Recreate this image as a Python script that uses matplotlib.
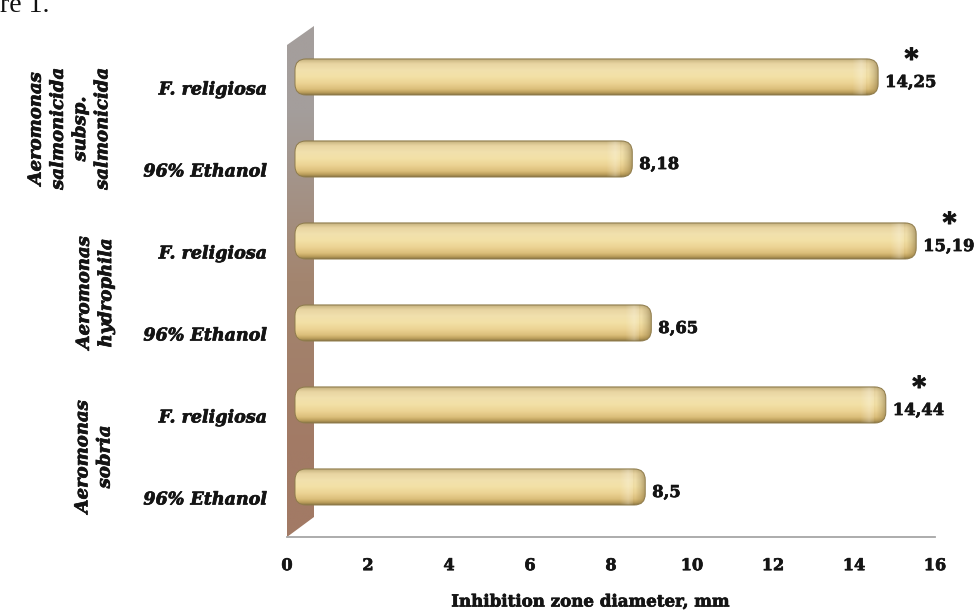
import numpy as np
import matplotlib.pyplot as plt
import matplotlib.patheffects as pe
from matplotlib.patches import FancyBboxPatch, Polygon
from matplotlib.colors import to_rgb

plt.rcParams['font.family'] = ['DejaVu Serif']

# rows from bottom to top
treatments = ['96% Ethanol', 'F. religiosa', '96% Ethanol', 'F. religiosa', '96% Ethanol', 'F. religiosa']
zones = [8.5, 14.44, 8.65, 15.19, 8.18, 14.25]
zone_labels = ['8,5', '14,44', '8,65', '15,19', '8,18', '14,25']
significant = [False, True, False, True, False, True]
strains = ['Aeromonas\nsobria', 'Aeromonas\nhydrophila', 'Aeromonas\nsalmonicida\nsubsp.\nsalmonicida']
strain_pos = [0.5, 2.5, 4.5]
x_ticks = [0, 2, 4, 6, 8, 10, 12, 14, 16]

ink = '#141414'
heavy = [pe.withStroke(linewidth=0.5, foreground=ink)]

W, H = 980, 615
fig = plt.figure(figsize=(W / 100, H / 100), dpi=100)
y_lo, y_hi = -0.476, 5.8
px_x = 648 / 16.0
px_y = 82.0
ax = fig.add_axes([287 / W, 78 / H, 648 / W, (y_hi - y_lo) * px_y / H])

# fake 3D depth of the bars
depth_x = 14 / px_x
depth_y = 11 / px_y

# back wall with a grey-to-brown gradient
wall_x = 27 / px_x
wall = Polygon([(0, y_lo), (0, 5.524), (wall_x, 5.756), (wall_x, -0.232)],
               closed=True, facecolor='none', edgecolor='none')
ax.add_patch(wall)
wall_grad = np.array([[to_rgb('#a49e9c')], [to_rgb('#a3856f')], [to_rgb('#a27a65')]])
im = ax.imshow(wall_grad, extent=[0, wall_x, y_lo, 5.76], aspect='auto',
               interpolation='bilinear', origin='upper', zorder=1)
im.set_clip_path(wall)

# cylinder shading, top to bottom
stops = [0.0, 0.05, 0.15, 0.32, 0.5, 0.68, 0.84, 0.94, 1.0]
cols = ['#9a8a62', '#cdb985', '#e8d5a2', '#f1e0ad', '#f3e1a6', '#ecd394', '#dcbf7b', '#b99c5a', '#8a7544']
rgb = np.array([to_rgb(c) for c in cols])
t = np.linspace(0, 1, 80)
body = np.stack([np.interp(t, stops, rgb[:, k]) for k in range(3)], axis=-1)[:, None, :]

bar_h = 0.44
r = 11 / px_x
start = 8 / px_x

# end cap: highlight then a darker rim
cap_w = 26 / px_x
u = np.linspace(0, 1, 60)
cap = np.zeros((1, 60, 4))
cap[0, :, :3] = np.where(u[:, None] < 0.55, 1.0, np.array(to_rgb('#7a6434')))
cap[0, :, 3] = np.interp(u, [0, 0.35, 0.5, 0.62, 0.85, 1.0], [0, 0.25, 0.12, 0.0, 0.25, 0.5])

for i, v in enumerate(zones):
    x1 = v + depth_x
    yc = i + depth_y
    box = FancyBboxPatch((start, yc - bar_h / 2), x1 - start, bar_h,
                         boxstyle=f'round,pad=0,rounding_size={r}',
                         mutation_aspect=px_x / px_y,
                         facecolor='none', edgecolor='#8f7c4c', lw=0.7, zorder=4)
    ax.add_patch(box)
    b = ax.imshow(body, extent=[start, x1, yc - bar_h / 2, yc + bar_h / 2],
                  aspect='auto', interpolation='bilinear', origin='upper', zorder=3)
    b.set_clip_path(box)
    c = ax.imshow(cap, extent=[x1 - cap_w, x1, yc - bar_h / 2, yc + bar_h / 2],
                  aspect='auto', interpolation='bilinear', zorder=3.5)
    c.set_clip_path(box)

    ax.annotate(zone_labels[i], xy=(x1, yc), xytext=(5, -4), textcoords='offset points',
                ha='left', va='center', fontsize=11.8, fontweight='bold', color=ink,
                path_effects=heavy)
    if significant[i]:
        ax.annotate('*', xy=(x1, yc), xytext=(24, 7), textcoords='offset points',
                    ha='center', va='baseline', fontsize=19, fontweight='bold', color=ink,
                    path_effects=[pe.withStroke(linewidth=0.9, foreground=ink)])

ax.set_xlim(0, 16)
ax.set_ylim(y_lo, y_hi)

ax.set_yticks(range(len(treatments)))
ax.set_yticklabels(treatments, fontsize=12.6, fontweight='bold', style='italic', color=ink)
ax.set_xticks(x_ticks)
ax.set_xticklabels([str(x) for x in x_ticks], fontsize=11.6, fontweight='bold', color=ink)
for lab in ax.get_xticklabels() + ax.get_yticklabels():
    lab.set_path_effects(heavy)
ax.tick_params(axis='y', length=0, pad=14.4)
ax.tick_params(axis='x', length=0, pad=14.5)

for s in ['top', 'right', 'left']:
    ax.spines[s].set_visible(False)
ax.spines['bottom'].set_color('#a6a6a6')
ax.spines['bottom'].set_linewidth(1.3)

# strain names, rotated on the far left
yax = ax.get_yaxis_transform()
for name, pos, xc in zip(strains, strain_pos, [93.5, 95, 69]):
    ax.text((xc - 287) / 648, pos, name, transform=yax, rotation=90,
            ha='center', va='center', multialignment='center', linespacing=1.3,
            fontsize=13, fontweight='bold', style='italic', color=ink, path_effects=heavy)

fig.text(590 / W, 1 - 602 / H, 'Inhibition zone diameter, mm', ha='center', va='center',
         fontsize=12, fontweight='bold', color=ink, path_effects=heavy)

fig.text(0, 1 - 12 / H, 're 1.', ha='left', va='baseline', fontsize=20,
         family='Liberation Serif', color='#111111')

fig.savefig('out.png', dpi=100)
